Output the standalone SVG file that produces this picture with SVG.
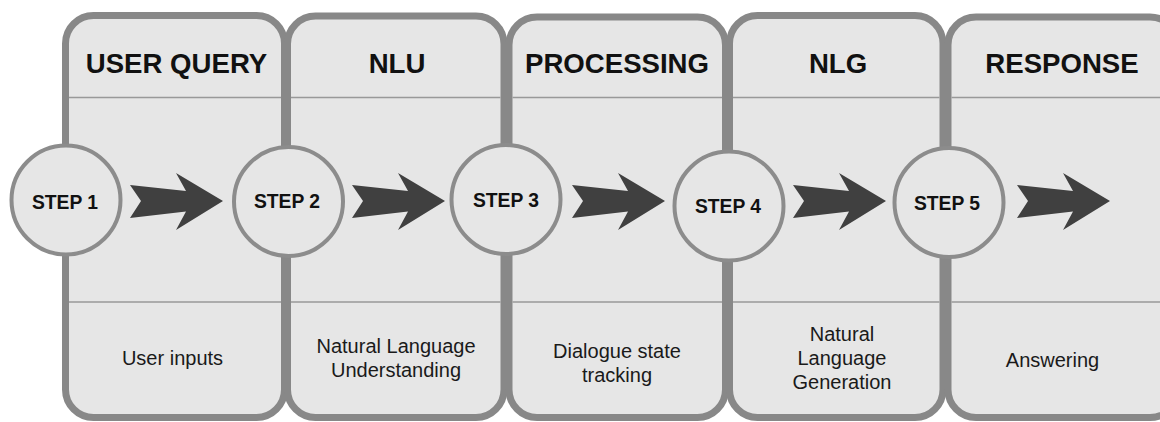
<svg xmlns="http://www.w3.org/2000/svg" width="1160" height="422" viewBox="0 0 1160 422">
<defs>
<style>
.panel{fill:#e6e6e6;stroke:#888888;stroke-width:7}
.div{stroke:#999999;stroke-width:1.5;fill:none}
.circ{fill:#e6e6e6;stroke:#8c8c8c;stroke-width:4}
.arr{fill:#404040}
.hdr{font-family:"Liberation Sans",Arial,sans-serif;font-weight:bold;font-size:27.6px;fill:#111;text-anchor:middle}
.step{font-family:"Liberation Sans",Arial,sans-serif;font-weight:bold;font-size:19.3px;fill:#111;text-anchor:middle}
.desc{font-family:"Liberation Sans",Arial,sans-serif;font-size:20px;fill:#1a1a1a;text-anchor:middle}
</style>
<path id="chev" d="M-93,-16 L-37,-10 L-47,-28 L0,0 L-47,29 L-37,10.5 L-93,17 L-82,0 Z"/>
</defs>
<g id="panel1">
<rect class="panel" x="65.5" y="15.5" width="219" height="402" rx="28"/>
<line class="div" x1="69" y1="97.5" x2="281" y2="97.5"/>
<line class="div" x1="69" y1="302" x2="281" y2="302"/>
<text class="hdr" x="176.5" y="73">USER QUERY</text>
<text class="desc" x="172.5" y="365">User inputs</text>
</g>
<g id="panel2">
<rect class="panel" x="287.5" y="16" width="216.5" height="401.5" rx="28"/>
<line class="div" x1="291" y1="97.5" x2="500.5" y2="97.5"/>
<line class="div" x1="291" y1="302" x2="500.5" y2="302"/>
<text class="hdr" x="397" y="73">NLU</text>
<text class="desc" x="396" y="353">Natural Language</text>
<text class="desc" x="396" y="377">Understanding</text>
</g>
<g id="panel3">
<rect class="panel" x="509" y="17" width="216.5" height="400.5" rx="28"/>
<line class="div" x1="512.5" y1="97.5" x2="722" y2="97.5"/>
<line class="div" x1="512.5" y1="302" x2="722" y2="302"/>
<text class="hdr" x="617" y="73">PROCESSING</text>
<text class="desc" x="617" y="358">Dialogue state</text>
<text class="desc" x="617" y="382">tracking</text>
</g>
<g id="panel4">
<rect class="panel" x="729.5" y="15.5" width="213.5" height="402" rx="28"/>
<line class="div" x1="733" y1="97.5" x2="939.5" y2="97.5"/>
<line class="div" x1="733" y1="302" x2="939.5" y2="302"/>
<text class="hdr" x="838" y="73">NLG</text>
<text class="desc" x="842" y="341">Natural</text>
<text class="desc" x="842" y="365">Language</text>
<text class="desc" x="842" y="389">Generation</text>
</g>
<g id="panel5">
<rect class="panel" x="948" y="17" width="230" height="400.5" rx="28"/>
<line class="div" x1="951.5" y1="97.5" x2="1160" y2="97.5"/>
<line class="div" x1="951.5" y1="302" x2="1160" y2="302"/>
<text class="hdr" x="1062" y="73">RESPONSE</text>
<text class="desc" x="1052.5" y="367">Answering</text>
</g>
<g id="connectors">
<use href="#chev" class="arr" transform="translate(223,201)"/>
<use href="#chev" class="arr" transform="translate(445,201)"/>
<use href="#chev" class="arr" transform="translate(665,201)"/>
<use href="#chev" class="arr" transform="translate(886,201)"/>
<use href="#chev" class="arr" transform="translate(1110,201)"/>
</g>
<g id="step1">
<circle class="circ" cx="66" cy="200" r="54.5"/>
<text class="step" x="65" y="209">STEP 1</text>
</g>
<g id="step2">
<circle class="circ" cx="288.5" cy="201.5" r="54.5"/>
<text class="step" x="287" y="208">STEP 2</text>
</g>
<g id="step3">
<circle class="circ" cx="506" cy="199.5" r="54.5"/>
<text class="step" x="506" y="207">STEP 3</text>
</g>
<g id="step4">
<circle class="circ" cx="729" cy="206" r="54.5"/>
<text class="step" x="728" y="213">STEP 4</text>
</g>
<g id="step5">
<circle class="circ" cx="949" cy="202.5" r="54.5"/>
<text class="step" x="947" y="210">STEP 5</text>
</g>
</svg>
